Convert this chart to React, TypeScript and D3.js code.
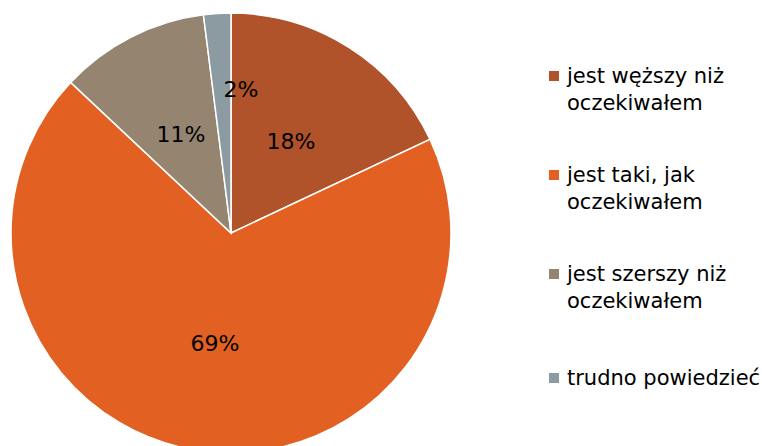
import React from "react";
import * as d3 from "d3";

const categories = [
  "jest węższy niż|oczekiwałem",
  "jest taki, jak|oczekiwałem",
  "jest szerszy niż|oczekiwałem",
  "trudno powiedzieć",
];
const values = [18, 69, 11, 2];
const labels = ["18%", "69%", "11%", "2%"];
const colors = ["#B0532A", "#E26122", "#948470", "#8C9BA2"];

const labelPos: [number, number][] = [
  [291, 143],
  [215, 345],
  [181, 136],
  [241, 91],
];

export default function App() {
  const W = 762, H = 446;
  const cx = 231, cy = 233, r = 220;
  const pie = d3.pie<number>().sort(null).value((d) => d)(values);
  const arc = d3.arc<d3.PieArcDatum<number>>().innerRadius(0).outerRadius(r);
  const font = "Tahoma, 'DejaVu Sans', Verdana, sans-serif";
  const legendY = [83, 182, 281, 385];
  return (
    <svg width={W} height={H} style={{ position: "absolute", left: 0, top: 0 }}>
      <rect width={W} height={H} fill="#fff" />
      <g transform={`translate(${cx},${cy})`}>
        {pie.map((p, i) => (
          <path key={i} d={arc(p) || ""} fill={colors[i]} stroke="#fff" strokeWidth={1.5} />
        ))}
      </g>
      {labels.map((l, i) => (
        <text key={i} x={labelPos[i][0]} y={labelPos[i][1]} fontFamily={font} fontSize={22}
          textAnchor="middle" dominantBaseline="middle" fill="#000">{l}</text>
      ))}
      {categories.map((c, i) => {
        const lines = c.split("|");
        const y = legendY[i];
        return (
          <g key={i}>
            <rect x={549} y={y - 12} width={10} height={10} fill={colors[i]} />
            {lines.map((ln, j) => (
              <text key={j} x={567} y={y + j * 27} fontFamily={font} fontSize={21} fill="#000">{ln}</text>
            ))}
          </g>
        );
      })}
    </svg>
  );
}
